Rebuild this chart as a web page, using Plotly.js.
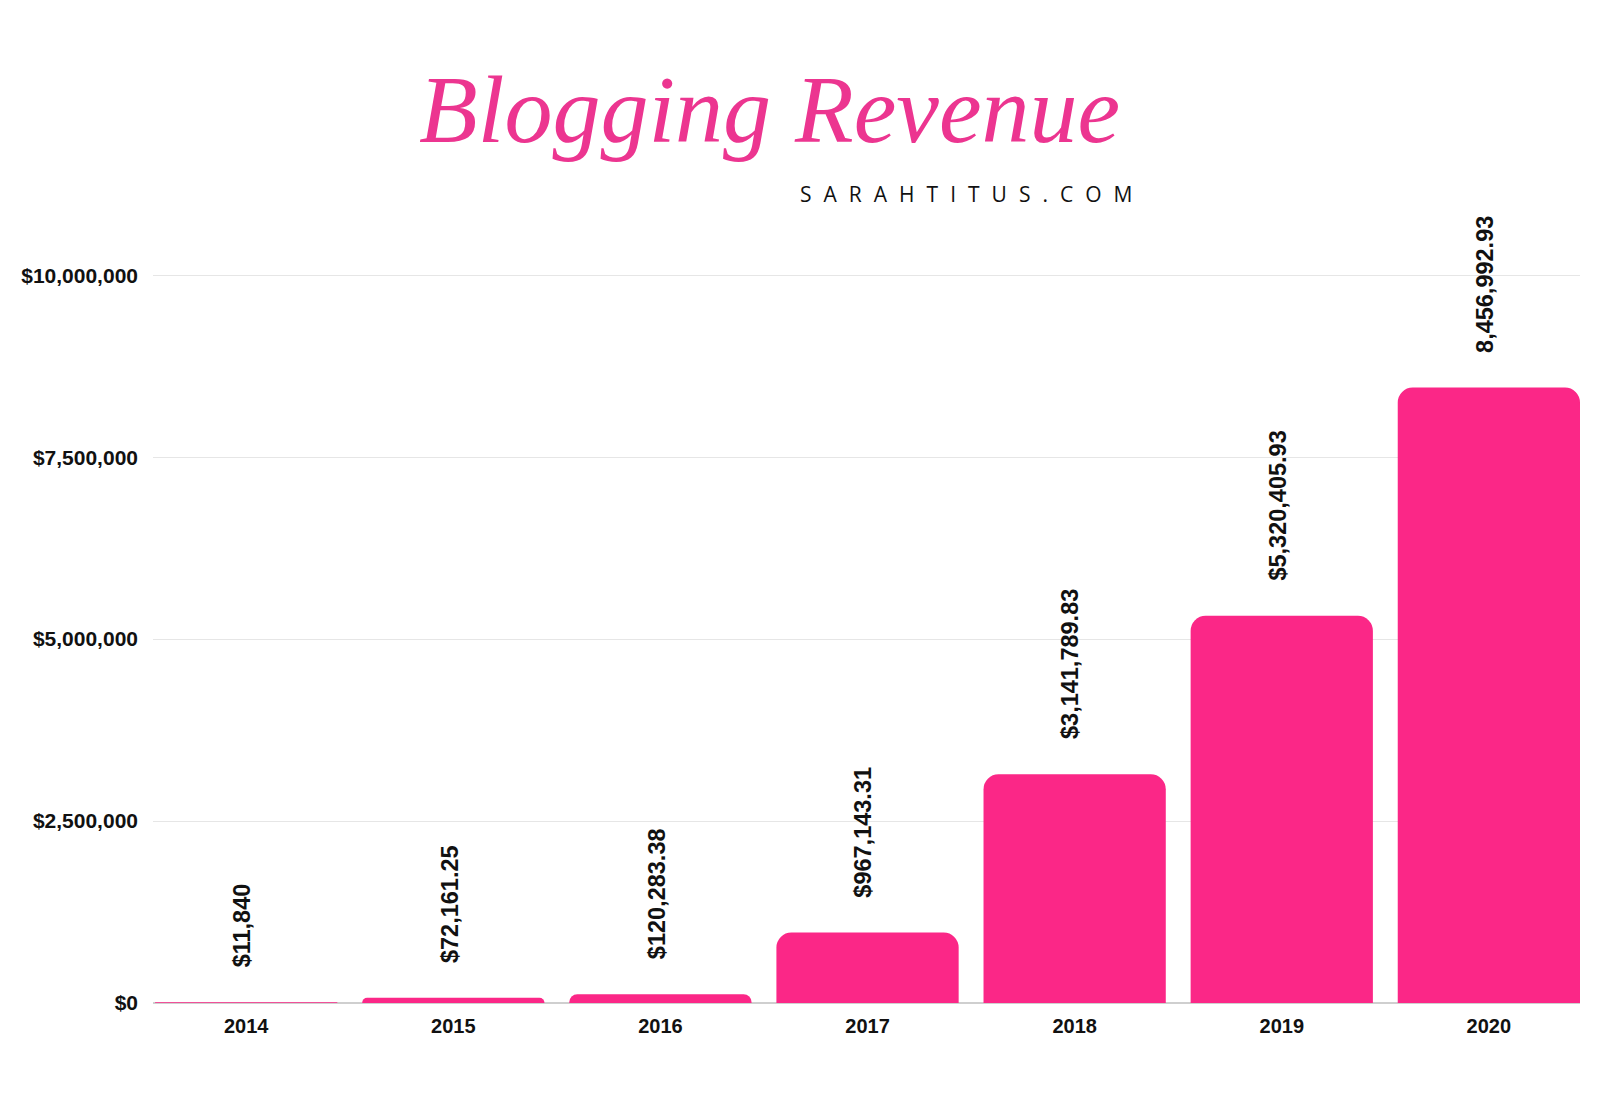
<!DOCTYPE html>
<html>
<head>
<meta charset="utf-8">
<script src="https://cdn.plot.ly/plotly-3.0.1.min.js"></script>
<style>html,body{margin:0;padding:0;background:#fff;}#chart{width:1600px;height:1109px;}</style>
</head>
<body>
<div id="chart"></div>
<script>
const years = ['2014', '2015', '2016', '2017', '2018', '2019', '2020'];
const revenue = [11840, 72161.25, 120283.38, 967143.31, 3141789.83, 5320405.93, 8456992.93];
const valueLabels = ['$11,840', '$72,161.25', '$120,283.38', '$967,143.31', '$3,141,789.83', '$5,320,405.93', '8,456,992.93'];
const yTickValues = [0, 2500000, 5000000, 7500000, 10000000];
const yTickLabels = ['$0', '$2,500,000', '$5,000,000', '$7,500,000', '$10,000,000'];
const titleText = 'Blogging Revenue';
const subtitleText = 'SARAHTITUS.COM';

const pink = '#fb2787';
const labelFont = {family: 'Liberation Sans, Arial, sans-serif', size: 23.5, color: '#111'};

// category axis: annotations use the category index
const annotations = years.map((yr, i) => ({
  x: i, y: revenue[i], xref: 'x', yref: 'y',
  text: '<b>' + valueLabels[i] + '</b>',
  textangle: -90, showarrow: false,
  xanchor: 'center', yanchor: 'bottom', yshift: 33, xshift: -4,
  font: labelFont
}));
annotations.push({
  xref: 'paper', yref: 'paper', x: 0.57, y: 1.1,
  xanchor: 'center', yanchor: 'middle', showarrow: false,
  text: subtitleText.split('').join('\u2007'),
  font: {family: 'Open Sans, sans-serif', size: 21, color: '#111'}
});

const trace = {
  type: 'bar', x: years, y: revenue,
  width: 0.88,
  marker: {color: pink, cornerradius: 15},
  hoverinfo: 'none'
};

const layout = {
  width: 1600, height: 1109,
  paper_bgcolor: '#ffffff', plot_bgcolor: '#ffffff',
  margin: {l: 153, r: 20, t: 268, b: 106},
  showlegend: false,
  title: {
    text: titleText,
    xref: 'container', yref: 'container', x: 0.481, y: 0.902,
    xanchor: 'center', yanchor: 'middle',
    font: {family: 'Liberation Serif, serif', size: 96, color: '#ec3590', style: 'italic'}
  },
  xaxis: {
    type: 'category', range: [-0.45, 6.44],
    showgrid: false, zeroline: false, showline: false, ticks: '',
    tickfont: {family: 'Liberation Sans, Arial, sans-serif', size: 20, color: '#111', weight: 'bold'},
    ticklabelstandoff: 9
  },
  yaxis: {
    range: [0, 10100000], tickvals: yTickValues, ticktext: yTickLabels,
    showgrid: true, gridcolor: '#e6e6e6', gridwidth: 1,
    zeroline: true, zerolinecolor: '#cfcfcf', zerolinewidth: 1.5,
    showline: false, ticks: '',
    tickfont: {family: 'Liberation Sans, Arial, sans-serif', size: 21, color: '#111', weight: 'bold'},
    ticklabelstandoff: 14
  },
  annotations: annotations
};

Plotly.newPlot('chart', [trace], layout, {displayModeBar: false, staticPlot: true});
</script>
</body>
</html>
